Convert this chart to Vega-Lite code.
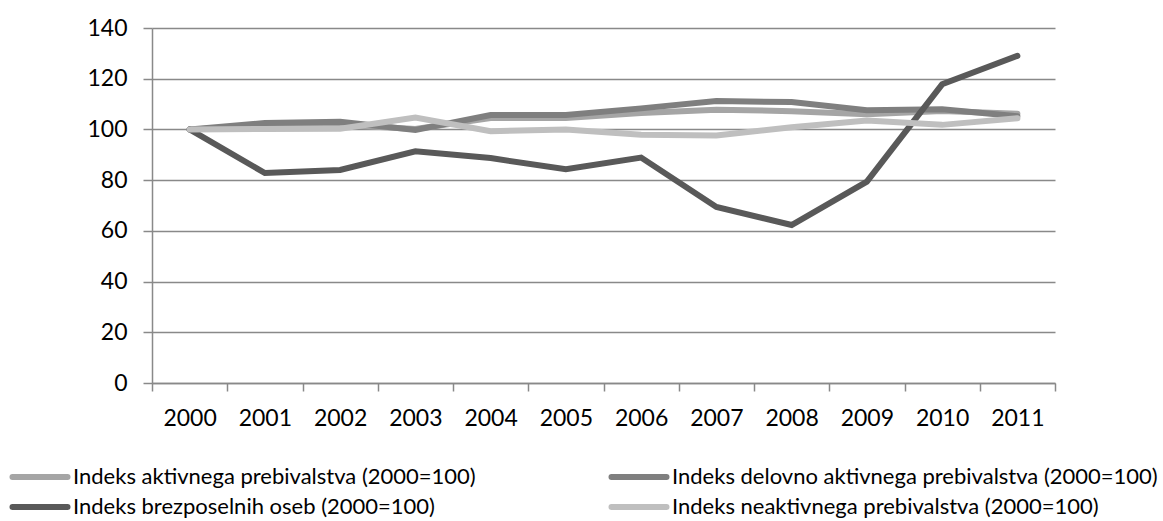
{
  "$schema": "https://vega.github.io/schema/vega-lite/v6.json",
  "width": 903,
  "height": 355,
  "autosize": "none",
  "padding": {"left": 152, "top": 28, "right": 108, "bottom": 138},
  "background": "white",
  "config": {
    "view": {"stroke": null},
    "font": "Lato",
    "axis": {"labelFont": "Lato", "labelColor": "#000000"}
  },
  "data": {
    "values": [
      {"leto": "2000", "serija": "Indeks aktivnega prebivalstva (2000=100)", "indeks": 100},
      {"leto": "2001", "serija": "Indeks aktivnega prebivalstva (2000=100)", "indeks": 101.3},
      {"leto": "2002", "serija": "Indeks aktivnega prebivalstva (2000=100)", "indeks": 101.8},
      {"leto": "2003", "serija": "Indeks aktivnega prebivalstva (2000=100)", "indeks": 100.2},
      {"leto": "2004", "serija": "Indeks aktivnega prebivalstva (2000=100)", "indeks": 104.5},
      {"leto": "2005", "serija": "Indeks aktivnega prebivalstva (2000=100)", "indeks": 104.5},
      {"leto": "2006", "serija": "Indeks aktivnega prebivalstva (2000=100)", "indeks": 106.5},
      {"leto": "2007", "serija": "Indeks aktivnega prebivalstva (2000=100)", "indeks": 107.8},
      {"leto": "2008", "serija": "Indeks aktivnega prebivalstva (2000=100)", "indeks": 107.2},
      {"leto": "2009", "serija": "Indeks aktivnega prebivalstva (2000=100)", "indeks": 106.0},
      {"leto": "2010", "serija": "Indeks aktivnega prebivalstva (2000=100)", "indeks": 107.3},
      {"leto": "2011", "serija": "Indeks aktivnega prebivalstva (2000=100)", "indeks": 106.2},
      {"leto": "2000", "serija": "Indeks delovno aktivnega prebivalstva (2000=100)", "indeks": 100},
      {"leto": "2001", "serija": "Indeks delovno aktivnega prebivalstva (2000=100)", "indeks": 102.5},
      {"leto": "2002", "serija": "Indeks delovno aktivnega prebivalstva (2000=100)", "indeks": 103.0},
      {"leto": "2003", "serija": "Indeks delovno aktivnega prebivalstva (2000=100)", "indeks": 99.8},
      {"leto": "2004", "serija": "Indeks delovno aktivnega prebivalstva (2000=100)", "indeks": 105.7},
      {"leto": "2005", "serija": "Indeks delovno aktivnega prebivalstva (2000=100)", "indeks": 105.7},
      {"leto": "2006", "serija": "Indeks delovno aktivnega prebivalstva (2000=100)", "indeks": 108.3},
      {"leto": "2007", "serija": "Indeks delovno aktivnega prebivalstva (2000=100)", "indeks": 111.2},
      {"leto": "2008", "serija": "Indeks delovno aktivnega prebivalstva (2000=100)", "indeks": 110.8},
      {"leto": "2009", "serija": "Indeks delovno aktivnega prebivalstva (2000=100)", "indeks": 107.6},
      {"leto": "2010", "serija": "Indeks delovno aktivnega prebivalstva (2000=100)", "indeks": 108.0},
      {"leto": "2011", "serija": "Indeks delovno aktivnega prebivalstva (2000=100)", "indeks": 105.2},
      {"leto": "2000", "serija": "Indeks brezposelnih oseb (2000=100)", "indeks": 100},
      {"leto": "2001", "serija": "Indeks brezposelnih oseb (2000=100)", "indeks": 82.8},
      {"leto": "2002", "serija": "Indeks brezposelnih oseb (2000=100)", "indeks": 84.0},
      {"leto": "2003", "serija": "Indeks brezposelnih oseb (2000=100)", "indeks": 91.4},
      {"leto": "2004", "serija": "Indeks brezposelnih oseb (2000=100)", "indeks": 88.7},
      {"leto": "2005", "serija": "Indeks brezposelnih oseb (2000=100)", "indeks": 84.3},
      {"leto": "2006", "serija": "Indeks brezposelnih oseb (2000=100)", "indeks": 88.9},
      {"leto": "2007", "serija": "Indeks brezposelnih oseb (2000=100)", "indeks": 69.4},
      {"leto": "2008", "serija": "Indeks brezposelnih oseb (2000=100)", "indeks": 62.3},
      {"leto": "2009", "serija": "Indeks brezposelnih oseb (2000=100)", "indeks": 79.4},
      {"leto": "2010", "serija": "Indeks brezposelnih oseb (2000=100)", "indeks": 117.8},
      {"leto": "2011", "serija": "Indeks brezposelnih oseb (2000=100)", "indeks": 129.0},
      {"leto": "2000", "serija": "Indeks neaktivnega prebivalstva (2000=100)", "indeks": 100},
      {"leto": "2001", "serija": "Indeks neaktivnega prebivalstva (2000=100)", "indeks": 100.2},
      {"leto": "2002", "serija": "Indeks neaktivnega prebivalstva (2000=100)", "indeks": 100.3},
      {"leto": "2003", "serija": "Indeks neaktivnega prebivalstva (2000=100)", "indeks": 104.7},
      {"leto": "2004", "serija": "Indeks neaktivnega prebivalstva (2000=100)", "indeks": 99.3},
      {"leto": "2005", "serija": "Indeks neaktivnega prebivalstva (2000=100)", "indeks": 100.0},
      {"leto": "2006", "serija": "Indeks neaktivnega prebivalstva (2000=100)", "indeks": 97.9},
      {"leto": "2007", "serija": "Indeks neaktivnega prebivalstva (2000=100)", "indeks": 97.6},
      {"leto": "2008", "serija": "Indeks neaktivnega prebivalstva (2000=100)", "indeks": 100.9},
      {"leto": "2009", "serija": "Indeks neaktivnega prebivalstva (2000=100)", "indeks": 103.5},
      {"leto": "2010", "serija": "Indeks neaktivnega prebivalstva (2000=100)", "indeks": 101.8},
      {"leto": "2011", "serija": "Indeks neaktivnega prebivalstva (2000=100)", "indeks": 104.4}
    ]
  },
  "mark": {"type": "line", "strokeWidth": 6, "strokeCap": "round", "strokeJoin": "miter"},
  "encoding": {
    "x": {
      "field": "leto",
      "type": "ordinal",
      "bandPosition": 0.5,
      "scale": {"type": "band", "paddingInner": 0, "paddingOuter": 0},
      "axis": {
        "title": null,
        "labelAngle": 0,
        "labelFontSize": 23,
        "labelPadding": 16,
        "tickBand": "extent",
        "tickSize": 8,
        "tickColor": "#898989",
        "tickWidth": 1.5,
        "domainColor": "#898989",
        "domainWidth": 1.5,
        "grid": false
      }
    },
    "y": {
      "field": "indeks",
      "type": "quantitative",
      "scale": {"domain": [0, 140], "nice": false, "zero": true},
      "axis": {
        "title": null,
        "values": [0, 20, 40, 60, 80, 100, 120, 140],
        "labelFontSize": 23,
        "labelPadding": 16,
        "tickSize": 9,
        "tickColor": "#898989",
        "tickWidth": 1.5,
        "domainColor": "#898989",
        "domainWidth": 1.5,
        "grid": true,
        "gridColor": "#898989",
        "gridWidth": 1.5
      }
    },
    "color": {
      "field": "serija",
      "type": "nominal",
      "sort": null,
      "scale": {
        "domain": [
          "Indeks aktivnega prebivalstva (2000=100)",
          "Indeks delovno aktivnega prebivalstva (2000=100)",
          "Indeks brezposelnih oseb (2000=100)",
          "Indeks neaktivnega prebivalstva (2000=100)"
        ],
        "range": ["#a5a5a5", "#7f7f7f", "#595959", "#bfbfbf"]
      },
      "legend": {
        "title": null,
        "orient": "none",
        "legendX": -126,
        "legendY": 435,
        "columns": 2,
        "direction": "horizontal",
        "symbolType": "M-2.5,0H2.5",
        "symbolSize": 484,
        "symbolStrokeWidth": 6,
        "symbolFillColor": "transparent",
        "labelFontSize": 22,
        "labelFont": "Lato",
        "labelColor": "#000000",
        "labelOffset": 19,
        "labelLimit": 600,
        "rowPadding": 4,
        "columnPadding": 123,
        "padding": 0,
        "symbolOpacity": 1,
        "encode": {"symbols": {"update": {"strokeCap": {"value": "round"}}}}
      }
    }
  }
}
